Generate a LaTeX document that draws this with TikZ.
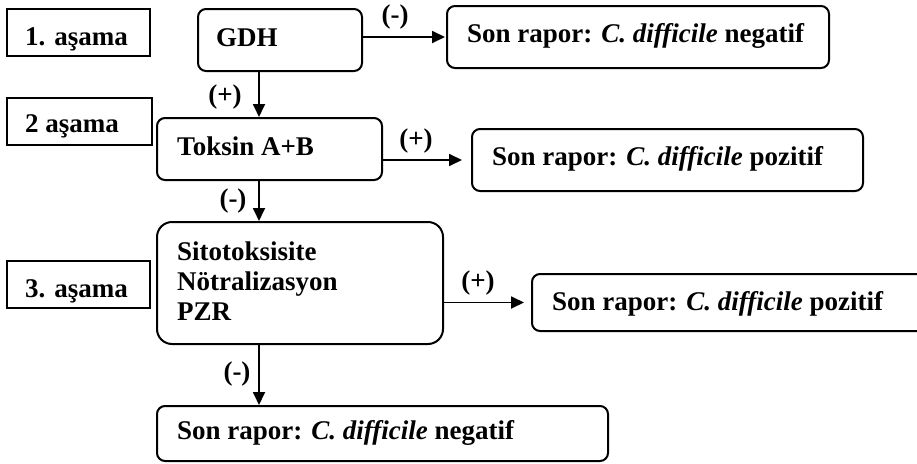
\documentclass[tikz,border=0pt]{standalone}
\usepackage{fontspec}
\setmainfont{Liberation Serif}
\usetikzlibrary{arrows.meta}
\begin{document}
\begin{tikzpicture}[x=1pt,y=-1pt,
  box/.style={draw, line width=2pt, inner sep=0pt},
  rbox/.style={box, rounded corners=8pt},
  txt/.style={inner sep=0pt, anchor=base west, font=\fontsize{27}{30}\selectfont\bfseries},
  lbl/.style={inner sep=0pt, anchor=base, font=\fontsize{27}{30}\selectfont\bfseries},
  arr/.style={line width=1.8pt, -{Triangle[length=13pt,width=12pt]}}]
\useasboundingbox (0,0) rectangle (917,463);
% stage boxes
\node[box, minimum width=143pt, minimum height=47pt] (s1) at (78.5,32.5) {};
\node[box, minimum width=145pt, minimum height=47pt] (s2) at (79.5,121.5) {};
\node[box, minimum width=143pt, minimum height=47pt] (s3) at (78.5,284.5) {};
\node[txt] (s1t) at (25,45) {1. aşama};
\node[txt] (s2t) at (25,132) {2 aşama};
\node[txt] (s3t) at (25,297) {3. aşama};
% test boxes
\node[rbox, minimum width=164pt, minimum height=62pt] (gdh) at (280,40) {};
\node[rbox, minimum width=225pt, minimum height=62pt] (tox) at (269.5,149) {};
\node[box, rounded corners=15pt, minimum width=286pt, minimum height=122pt] (sito) at (300,283) {};
\node[txt] (gdht) at (216,46) {GDH};
\node[txt] (toxt) at (177,155) {Toksin A+B};
\node[txt] (sitot1) at (177,260) {Sitotoksisite};
\node[txt] (sitot2) at (177,290) {Nötralizasyon};
\node[txt] (sitot3) at (177,320) {PZR};
% report boxes
\node[rbox, minimum width=382pt, minimum height=62pt] (neg1) at (638,37) {};
\node[rbox, minimum width=391pt, minimum height=62pt] (pos1) at (667.5,160) {};
\node[rbox, minimum width=398pt, minimum height=57pt] (pos2) at (731,302.5) {};
\node[rbox, minimum width=451pt, minimum height=55pt] (neg2) at (382.5,433.5) {};
\node[txt] (neg1t) at (467,42) {Son rapor: \textit{C. difficile} negatif};
\node[txt] (pos1t) at (492,165) {Son rapor: \textit{C. difficile} pozitif};
\node[txt] (pos2t) at (552,310) {Son rapor: \textit{C. difficile} pozitif};
\node[txt] (neg2t) at (177,439) {Son rapor: \textit{C. difficile} negatif};
% connectors
\coordinate (vx) at (259,0);
\draw[arr, shorten >=1pt] (gdh.east |- neg1.west) -- (neg1.west);
\draw[arr, shorten >=9pt] (tox.east |- pos1.west) -- (pos1.west);
\draw[arr, shorten >=7pt] (sito.east |- pos2.west) -- (pos2.west);
\draw[arr] (vx |- gdh.south) -- (vx |- tox.north);
\draw[arr] (vx |- tox.south) -- (vx |- sito.north);
\draw[arr] (vx |- sito.south) -- (vx |- neg2.north);
% labels
\node[lbl] (l1) at (395,23) {(-)};
\node[lbl] (l2) at (225,103) {(+)};
\node[lbl] (l3) at (416,147) {(+)};
\node[lbl] (l4) at (233,207) {(-)};
\node[lbl] (l5) at (478,289) {(+)};
\node[lbl] (l6) at (237,380) {(-)};
\end{tikzpicture}
\end{document}
